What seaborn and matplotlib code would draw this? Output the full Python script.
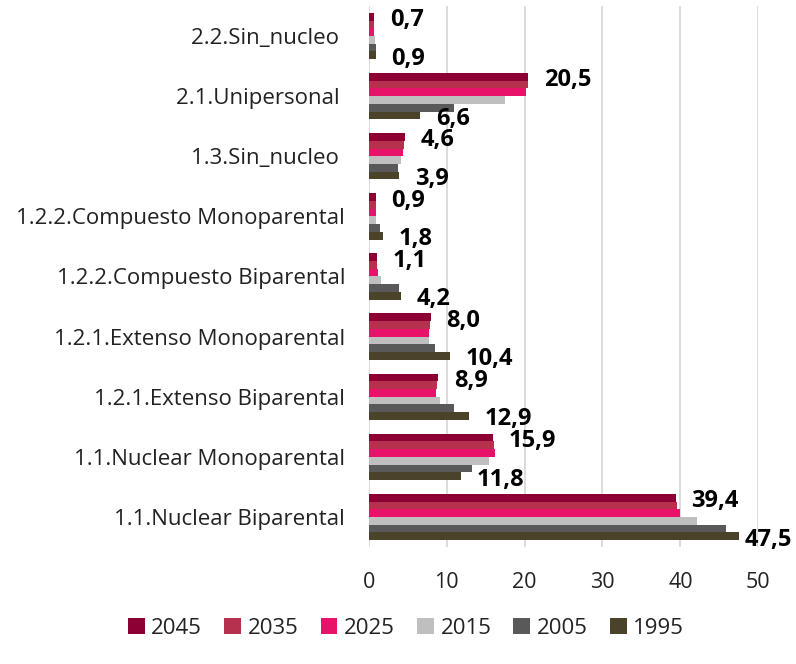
import matplotlib
matplotlib.use("Agg")
import matplotlib.pyplot as plt
import seaborn as sns
import pandas as pd
from matplotlib.patches import Patch

# Household types (top to bottom) and projected shares (%) per year
categories = [
    "2.2.Sin_nucleo ",
    "2.1.Unipersonal ",
    "1.3.Sin_nucleo ",
    "1.2.2.Compuesto Monoparental",
    "1.2.2.Compuesto Biparental",
    "1.2.1.Extenso Monoparental",
    "1.2.1.Extenso Biparental",
    "1.1.Nuclear Monoparental",
    "1.1.Nuclear Biparental",
]
years = ["2045", "2035", "2025", "2015", "2005", "1995"]

v2045 = [0.7, 20.5, 4.6, 0.9, 1.1, 8.0, 8.9, 15.9, 39.4]
v2035 = [0.7, 20.4, 4.5, 0.9, 1.1, 7.9, 8.8, 16.1, 39.6]
v2025 = [0.7, 20.2, 4.4, 0.9, 1.2, 7.7, 8.7, 16.2, 39.9]
v2015 = [0.8, 17.5, 4.2, 1.0, 1.6, 7.7, 9.2, 15.4, 42.2]
v2005 = [0.9, 11.0, 3.7, 1.5, 3.9, 8.5, 11.0, 13.3, 45.9]
v1995 = [0.9, 6.6, 3.9, 1.8, 4.2, 10.4, 12.9, 11.8, 47.5]

series = [v2045, v2035, v2025, v2015, v2005, v1995]
colors = ["#8C0033", "#B5314E", "#E9126A", "#BFBFBF", "#595959", "#4A4329"]

rows = []
for year, vals in zip(years, series):
    for cat, v in zip(categories, vals):
        rows.append({"categoria": cat, "anio": year, "valor": v})
df = pd.DataFrame(rows)

sns.set_theme(style="white")
plt.rcParams["font.family"] = ["Open Sans", "DejaVu Sans"]

fig = plt.figure(figsize=(7.96, 6.64), dpi=100)
ax = fig.add_axes([0.4632, 0.1762, 0.4894, 0.8148])

sns.barplot(
    data=df, y="categoria", x="valor", hue="anio",
    order=categories, hue_order=years, palette=colors,
    orient="h", width=0.77, errorbar=None, legend=False, ax=ax,
    edgecolor="none", saturation=1,
)

ax.set_xlim(0, 50)
ax.set_xticks([0, 10, 20, 30, 40, 50])
ax.set_xlabel("")
ax.set_ylabel("")
for s in ax.spines.values():
    s.set_visible(False)
ax.set_axisbelow(True)
ax.xaxis.grid(True, color="#D9D9D9", linewidth=1.3)
ax.yaxis.grid(False)
ax.tick_params(axis="x", length=0, pad=18, labelsize=15.5, colors="#222222")
ax.tick_params(axis="y", length=0, pad=17, labelsize=16, colors="#222222")

# Value labels for the first (2045) and last (1995) series
n_h = len(years)
bar_h = 0.77 / n_h
for i, (a, b) in enumerate(zip(v2045, v1995)):
    y_top = i - 0.77 / 2 + bar_h / 2
    y_bot = i + 0.77 / 2 - bar_h / 2
    for v, yy in ((a, y_top), (b, y_bot)):
        xx = min(v + 2.0, 48.3)
        ax.annotate(
            f"{v:.1f}".replace(".", ","), xy=(xx, yy), xytext=(0, -2.5),
            textcoords="offset points", ha="left", va="center",
            fontsize=17, fontweight="bold", color="black",
        )

handles = [Patch(facecolor=c, edgecolor="none") for c in colors]
fig.legend(
    handles, years, loc="center", bbox_to_anchor=(406 / 796, 0.054),
    ncol=6, frameon=False, fontsize=16, handlelength=0.75, handleheight=0.75,
    handletextpad=0.3, columnspacing=1.0, labelcolor="#222222",
)

fig.savefig("out.png", dpi=100)
